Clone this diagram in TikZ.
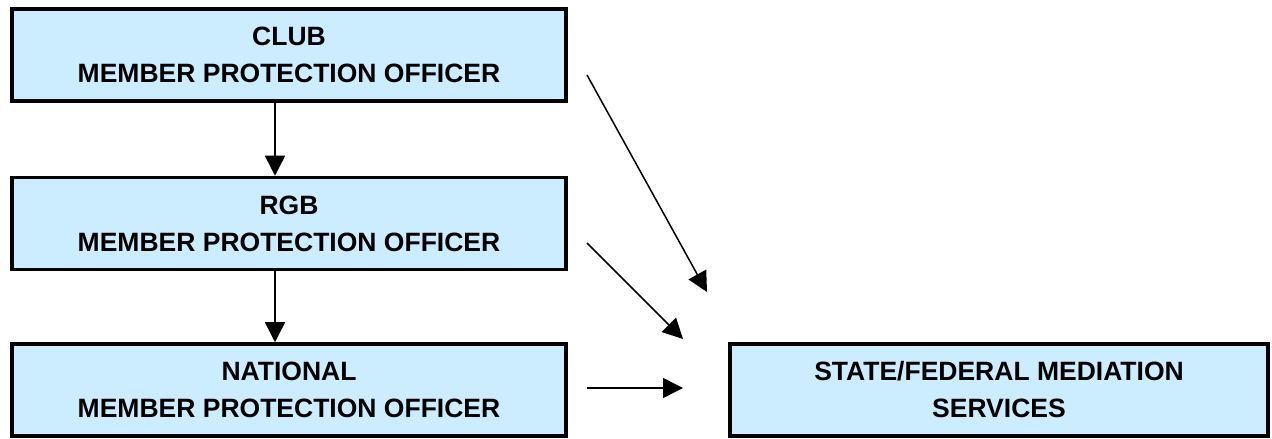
\documentclass[tikz,border=0pt]{standalone}
\usepackage{fontspec}
\setmainfont{Liberation Sans}
\usetikzlibrary{arrows.meta}
\definecolor{boxblue}{RGB}{204,236,255}

\begin{document}
\begin{tikzpicture}[x=1pt,y=1pt,
  box/.style={draw,line width=3.5pt,fill=boxblue,align=center,inner sep=0pt,
    minimum height=92pt,font=\bfseries\fontsize{26.5}{37}\selectfont},
  arr/.style={line width=1.5pt,-{Triangle[length=20pt,width=20pt]}}]
  \useasboundingbox (0,0) rectangle (1272,439);
  \node [box,minimum width=554pt] (club) at (289,384) {CLUB\\MEMBER PROTECTION OFFICER};
  \node [box,minimum width=554pt] (rgb) at (289,215.5) {RGB\\MEMBER PROTECTION OFFICER};
  \node [box,minimum width=554pt] (nat) at (289,49) {NATIONAL\\MEMBER PROTECTION OFFICER};
  \node [box,minimum width=538pt] (state) at (999,49) {STATE/FEDERAL MEDIATION\\SERVICES};
  \coordinate (c1) at (587,364);
  \coordinate (t1) at (707,147);
  \coordinate (c2) at (587,196);
  \coordinate (t2) at (683,100);
  \coordinate (c3) at (587,51);
  \coordinate (t3) at (683,51);
  \draw [arr] ([xshift=-14pt]club.south) -- ([xshift=-14pt]rgb.north);
  \draw [arr] ([xshift=-14pt]rgb.south) -- ([xshift=-14pt]nat.north);
  \draw [arr] (c1) -- (t1);
  \draw [arr] (c2) -- (t2);
  \draw [arr] (c3) -- (t3);
\end{tikzpicture}
\end{document}
